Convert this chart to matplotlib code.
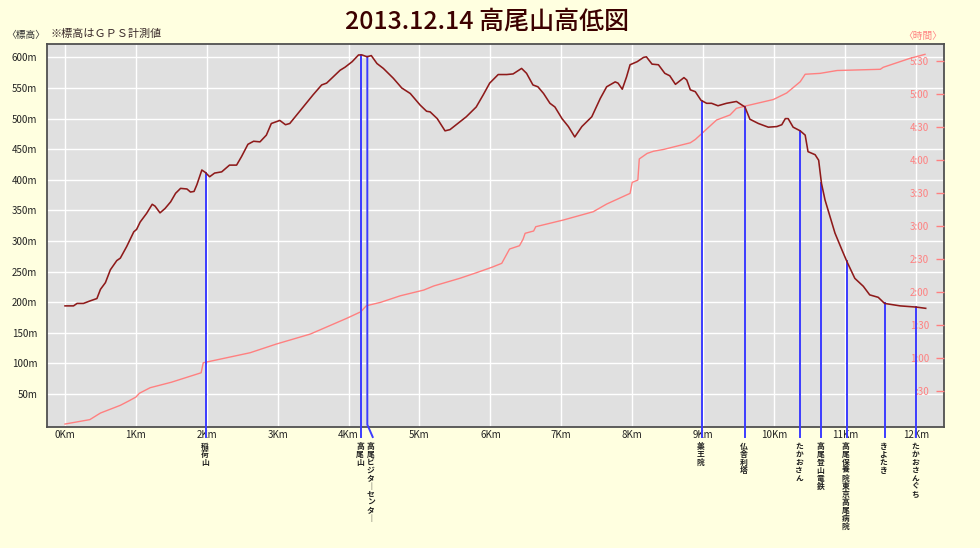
import numpy as np
import matplotlib
matplotlib.use("Agg")
import matplotlib.pyplot as plt

plt.rcParams['font.family'] = ['Noto Sans CJK JP', 'DejaVu Sans']

# elevation profile (distance km, elevation m)
dist_km = [0.00, 0.12, 0.17, 0.26, 0.35, 0.45, 0.50, 0.57, 0.64, 0.73, 0.78, 0.87, 0.97, 1.01,
           1.06, 1.15, 1.23, 1.27, 1.34, 1.41, 1.49, 1.56, 1.63, 1.72, 1.77, 1.82, 1.86, 1.93,
           1.98, 2.04, 2.11, 2.21, 2.32, 2.42, 2.49, 2.58, 2.66, 2.75, 2.84, 2.91, 2.98, 3.03,
           3.11, 3.17, 3.36, 3.50, 3.62, 3.69, 3.88, 3.95, 4.05, 4.14, 4.19, 4.26, 4.32, 4.40,
           4.49, 4.63, 4.75, 4.87, 5.01, 5.10, 5.15, 5.25, 5.36, 5.43, 5.66, 5.80, 5.90, 5.99,
           6.11, 6.23, 6.32, 6.44, 6.51, 6.60, 6.67, 6.75, 6.84, 6.91, 7.01, 7.10, 7.19, 7.29,
           7.43, 7.55, 7.64, 7.76, 7.80, 7.86, 7.92, 7.97, 8.07, 8.16, 8.20, 8.28, 8.37, 8.46,
           8.53, 8.61, 8.73, 8.77, 8.82, 8.89, 8.97, 9.05, 9.12, 9.21, 9.33, 9.47, 9.59, 9.66,
           9.78, 9.92, 10.04, 10.11, 10.16, 10.20, 10.27, 10.37, 10.44, 10.48, 10.58, 10.63,
           10.67, 10.72, 10.79, 10.86, 10.96, 11.03, 11.14, 11.26, 11.35, 11.47, 11.56, 11.78,
           12.01, 12.14]
elev_m = [194, 194, 198, 198, 202, 206, 221, 232, 253, 268, 272, 291, 315, 319,
          331, 345, 360, 357, 346, 353, 364, 378, 386, 385, 380, 381, 392, 416,
          412, 405, 411, 413, 424, 424, 438, 458, 463, 462, 473, 492, 495, 497,
          490, 492, 519, 539, 555, 558, 579, 584, 593, 604, 604, 601, 603, 590,
          582, 566, 550, 541, 522, 512, 511, 500, 480, 482, 503, 519, 539, 558,
          572, 572, 573, 582, 574, 555, 552, 541, 525, 519, 500, 487, 470, 487,
          503, 533, 552, 560, 558, 548, 568, 588, 593, 600, 601, 589, 588, 574,
          570, 556, 567, 563, 547, 544, 530, 525, 525, 521, 525, 528, 519, 499,
          492, 486, 487, 490, 500, 500, 486, 480, 473, 446, 441, 432,
          394, 367, 340, 313, 285, 266, 239, 226, 212, 208, 198, 194,
          192, 190]

# elapsed time (distance km, minutes)
time_km = [0.00, 0.35, 0.50, 0.78, 0.90, 1.00, 1.05, 1.20, 1.50, 1.92, 1.95, 2.61, 2.98, 3.46,
           3.97, 4.17, 4.25, 4.45, 4.73, 5.06, 5.20, 5.57, 5.80, 6.02, 6.16, 6.27, 6.41, 6.46,
           6.49, 6.61, 6.64, 7.03, 7.45, 7.64, 7.97, 8.00, 8.08, 8.10, 8.21, 8.30, 8.44, 8.82,
           8.89, 8.97, 9.19, 9.38, 9.47, 9.59, 9.99, 10.18, 10.37, 10.44, 10.65, 10.89, 11.50,
           11.54, 11.92, 12.13]
time_min = [0, 4, 10, 17, 21, 24.5, 28, 33, 38, 46.6, 55.7, 64.8, 72.7, 81.8,
            96, 102, 107.5, 110.6, 116.6, 121.8, 125.5, 132.5, 137.5, 142.5, 146.1, 159.1, 162.1, 167.9,
            173.4, 175.5, 179.4, 185.5, 193, 200, 209.7, 219.7, 221.8, 241, 246, 248, 249.6, 255.7,
            258.7, 263.4, 276.4, 281, 287, 289, 295, 301, 311.2, 318, 318.8, 321.4, 322.5,
            324.3, 332.5, 336.1]

# landmarks along the route
spot_names = ["稲荷山", "高尾山", "高尾ビジターセンター", "薬王院", "仏舎利塔", "たかおさん",
              "高尾登山電鉄", "高尾保養院東京高尾病院", "きよたき", "たかおさんぐち"]
spot_km = [1.985, 4.175, 4.264, 8.98, 9.59, 10.37, 10.67, 11.025, 11.56, 12.01]

km_ticks = list(range(13))
km_labels = [f"{k}Km" for k in km_ticks]
m_ticks = list(range(50, 650, 50))
m_labels = [f"{m}m" for m in m_ticks]
t_ticks = list(range(30, 360, 30))
t_labels = [":30"] + [f"{t // 60}:{t % 60:02d}" for t in t_ticks[1:]]

BG = '#ffffe0'
PINK = '#ff8080'

fig = plt.figure(figsize=(9.8, 5.48), dpi=100, facecolor=BG)
ax = fig.add_axes([47 / 980, 1 - 427 / 548, 897 / 980, 383 / 548])
ax.set_facecolor('#e0e0e0')
ax.set_xlim(-0.254, 12.398)
ax.set_ylim(-3.9, 621.9)
ax.set_xticks(km_ticks, km_labels)
ax.set_yticks(m_ticks, m_labels)
ax.tick_params(axis='x', length=0, pad=2, labelsize=7, labelcolor='#222222')
ax.tick_params(axis='y', length=0, pad=7, labelsize=7, labelcolor='#222222')
ax.grid(color='white', linewidth=1.0)
ax.set_axisbelow(True)
for sp in ax.spines.values():
    sp.set_color('#505050')
    sp.set_linewidth(1.3)

ax2 = ax.twinx()
ax2.set_ylim(-2.7, 345.5)
ax2.set_yticks(t_ticks, t_labels)
ax2.tick_params(axis='y', direction='in', length=6, width=1, color=PINK,
                labelcolor=PINK, labelsize=7, pad=-10.8)
for lbl in ax2.get_yticklabels():
    lbl.set_horizontalalignment('right')
for sp in ax2.spines.values():
    sp.set_visible(False)

# time line (pink)
ax2.plot(time_km, time_min, color=PINK, linewidth=1.0, zorder=2)

# landmark lines in elevation coordinates
bottom = ax.get_ylim()[0]
below = bottom - 10 / 0.612
for name, k in zip(spot_names, spot_km):
    top = np.interp(k, dist_km, elev_m)
    if name == "高尾ビジターセンター":
        xs, ys = [k, k, k + 0.076], [top, 0, below]
        dx = 2.5
    else:
        xs, ys = [k, k], [top, below]
        dx = -0.8
    ax2.plot(xs, ys, color='#3c3cff', linewidth=1.4, transform=ax.transData,
             clip_on=False, zorder=3)
    label = "\n".join(name.replace("ー", "｜"))
    ax.annotate(label, xy=(k, 0), xycoords=ax.get_xaxis_transform(),
                xytext=(dx, -10.6), textcoords='offset points',
                ha='center', va='top', fontsize=5.6, linespacing=0.86,
                fontweight='bold', color='#202020', annotation_clip=False)

# elevation line
ax2.plot(dist_km, elev_m, color='#8e1a1a', linewidth=1.15, transform=ax.transData, zorder=4)
ax2.set_ylim(-2.7, 345.5)
ax2.set_xlim(-0.254, 12.398)

fig.text(487.5 / 980, 1 - 22 / 548, "2013.12.14 高尾山高低図", ha='center', va='center',
         fontsize=18, fontweight='medium', color='#3c0000')
fig.text(26 / 980, 1 - 35 / 548, "〈標高〉", ha='center', va='center', fontsize=7,
         color='#333333')
fig.text(50 / 980, 1 - 34 / 548, "※標高はＧＰＳ計測値", ha='left', va='center', fontsize=8,
         color='#3a2a2a')
fig.text(923 / 980, 1 - 36 / 548, "〈時間〉", ha='center', va='center', fontsize=7,
         color=PINK)

fig.savefig("out.png", dpi=100, facecolor=BG)
